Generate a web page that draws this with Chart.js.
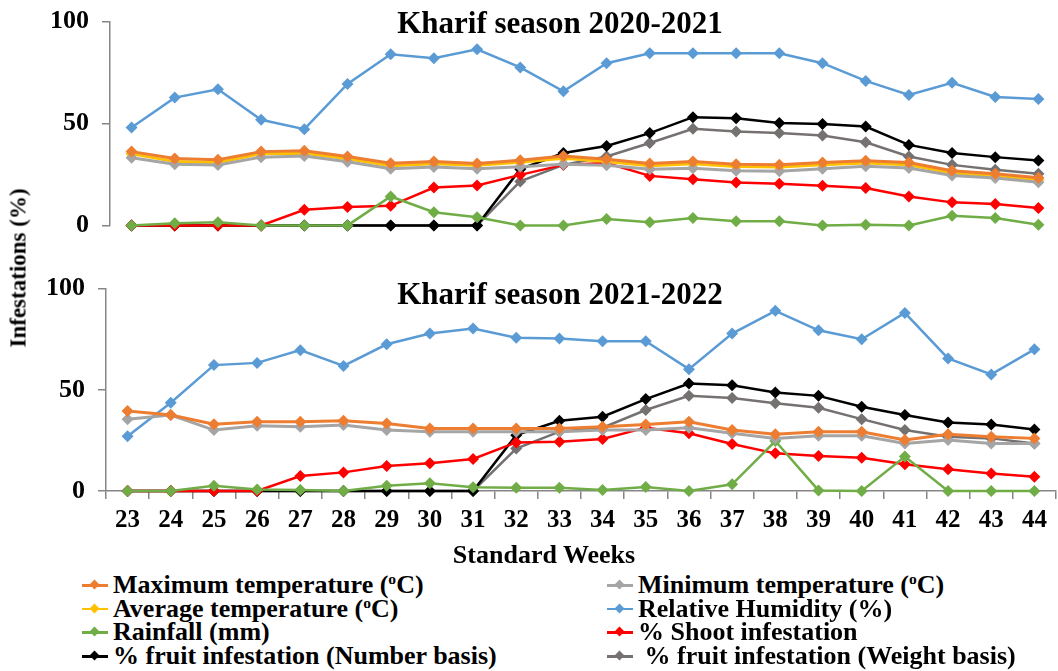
<!DOCTYPE html>
<html>
<head>
<meta charset="utf-8">
<script src="https://cdn.jsdelivr.net/npm/chart.js@4.4.0/dist/chart.umd.min.js"></script>
<style>
  html, body { margin: 0; padding: 0; background: #fff; overflow: hidden; }
  body { width: 1058px; height: 671px; position: relative; font-family: "Liberation Serif", "Times New Roman", serif; font-weight: bold; color: #000; }
  canvas { position: absolute; left: 0; }
  .txt { position: absolute; white-space: nowrap; line-height: 1; }
  .title { font-size: 31px; left: 0; width: 1120px; text-align: center; }
  .ytitle { font-size: 23px; left: 18px; top: 268px; transform: translate(-50%, -50%) rotate(-90deg); }
  .xtitle { font-size: 26px; left: 544px; top: 555px; transform: translate(-50%, -50%); }
  .leg { position: absolute; font-size: 26px; height: 24px; display: flex; align-items: center; white-space: nowrap; }
  .sym { position: relative; width: 26px; height: 24px; margin-right: 5px; }
  .sym .ln { position: absolute; left: 0; right: 0; top: 11px; height: 2.5px; }
  .sym .dm { position: absolute; left: 9px; top: 8px; width: 7px; height: 7px; transform: rotate(45deg); }
  sup { font-size: 60%; vertical-align: 0.55em; line-height: 0; }
</style>
</head>
<body>
<!-- chart.js keeps ~28.6px above/below the y labels, so canvases are shifted to put 100/0 where the reference has them -->
<canvas id="top" width="1066" height="261" style="top:-7px"></canvas>
<canvas id="bottom" width="1062" height="310" style="top:260px"></canvas>

<div class="txt title" style="top:7px">Kharif season 2020-2021</div>
<div class="txt title" style="top:278px">Kharif season 2021-2022</div>
<div class="txt ytitle">Infestations (%)</div>
<div class="txt xtitle">Standard Weeks</div>
<div id="legend"></div>

<script>
// standard weeks (x categories)
const weeks = ['23','24','25','26','27','28','29','30','31','32','33','34','35','36','37','38','39','40','41','42','43','44'];
const yTicks = [0, 50, 100];

// Kharif 2020-2021
const maxTemp20 = [36.2, 32.8, 32.2, 36.2, 36.6, 33.8, 30.5, 31.3, 30.4, 32.0, 34.0, 32.5, 30.4, 31.3, 30.0, 29.7, 30.9, 31.7, 30.9, 26.8, 25.4, 23.4];
const minTemp20 = [33.2, 30.0, 29.6, 33.5, 34.0, 31.2, 27.8, 28.6, 27.8, 28.8, 30.0, 29.5, 27.5, 28.0, 26.8, 26.6, 27.8, 29.0, 28.2, 24.5, 23.2, 21.2];
const avgTemp20 = [35.1, 31.4, 30.9, 35.1, 35.4, 32.7, 29.3, 30.2, 29.5, 31.0, 33.0, 31.3, 29.3, 30.2, 28.9, 28.6, 29.8, 30.6, 29.8, 25.7, 24.4, 22.4];
const humidity20 = [48, 62.7, 66.8, 51.8, 47.2, 69.4, 84, 82, 86.4, 77.5, 65.8, 79.6, 84.5, 84.5, 84.5, 84.5, 79.6, 70.9, 64, 70, 63, 62];
const rainfall20 = [0, 1, 1.5, 0, 0, 0, 14.2, 6.5, 4, 0, 0, 3.1, 1.6, 3.6, 2, 2, 0, 0.3, 0, 4.7, 3.6, 0.3];
const shoot20 = [0, 0, 0, 0, 7.7, 9, 9.6, 18.6, 19.6, 24.8, 29.7, 30.6, 24.3, 22.7, 21, 20.4, 19.4, 18.3, 14.2, 11.3, 10.5, 8.5];
const fruitNum20 = [0, 0, 0, 0, 0, 0, 0, 0, 0, 27.6, 35.5, 39, 45.3, 53.1, 52.6, 50.2, 49.7, 48.5, 39.5, 35.5, 33.5, 31.9];
const fruitWt20 = [0, 0, 0, 0, 0, 0, 0, 0, 0, 21.6, 29.7, 33.8, 40.4, 47.4, 46.1, 45.3, 44.1, 40.8, 33.8, 29.7, 27.3, 25.3];

// Kharif 2021-2022 (no average temperature line is drawn in this panel)
const maxTemp21 = [39.5, 37.5, 33, 34.2, 34.2, 34.7, 33.4, 30.9, 30.9, 30.9, 30.9, 31.7, 32.9, 34.2, 30.1, 28, 29.3, 29.3, 25.2, 28, 26.8, 26];
const minTemp21 = [35.4, 37.5, 30.1, 32.2, 31.7, 32.6, 30.1, 29.3, 29.3, 29.3, 29.3, 30.1, 30.1, 31.3, 28.5, 26, 27.3, 27.3, 23.5, 25.2, 23.5, 23.5];
const humidity21 = [27.1, 43.6, 62.2, 63.3, 69.6, 61.8, 72.5, 77.8, 80.3, 75.7, 75.3, 74, 74, 60.2, 77.8, 89, 79.4, 75, 88, 65.5, 57.6, 70];
const rainfall21 = [0, 0, 2.6, 0.8, 0.5, 0, 2.6, 3.8, 1.8, 1.6, 1.6, 0.5, 2, 0, 3.3, 24.7, 0.3, 0, 17, 0, 0, 0];
const shoot21 = [0, 0, 0, 0, 7.4, 9.2, 12.3, 13.7, 15.8, 24, 24.3, 25.7, 31.3, 28.5, 23.2, 18.6, 17.3, 16.4, 13.2, 10.7, 8.7, 7.1];
const fruitNum21 = [0, 0, 0, 0, 0, 0, 0, 0, 0, 27.6, 34.7, 36.7, 45.4, 53.1, 52.3, 48.7, 47, 41.6, 37.5, 33.9, 32.9, 30.4];
const fruitWt21 = [0, 0, 0, 0, 0, 0, 0, 0, 0, 21, 29.3, 31.3, 40, 47, 46, 43.3, 41.1, 35.5, 30.1, 26.8, 26, 23.5];

const seriesInfo = [
  { key: 'max',   label: 'Maximum temperature (<sup>o</sup>C)', color: '#ED7D31', width: 3 },
  { key: 'min',   label: 'Minimum temperature (<sup>o</sup>C)', color: '#A5A5A5', width: 3 },
  { key: 'avg',   label: 'Average temperature (<sup>o</sup>C)', color: '#FFC000', width: 3 },
  { key: 'rh',    label: 'Relative Humidity (%)', color: '#5B9BD5', width: 2.5 },
  { key: 'rain',  label: 'Rainfall (mm)', color: '#70AD47', width: 2.5 },
  { key: 'shoot', label: '% Shoot infestation', color: '#FF0000', width: 2.5 },
  { key: 'num',   label: '% fruit infestation (Number basis)', color: '#000000', width: 2.5 },
  { key: 'wt',    label: '&nbsp;% fruit infestation (Weight basis)', color: '#767171', width: 2.5 }
];

const AXIS_COLOR = '#868686';
const FONT = 'Liberation Serif';

function makeDatasets(values) {
  return seriesInfo.filter(s => values[s.key]).map(s => ({
    label: s.key,
    data: values[s.key],
    borderColor: s.color,
    backgroundColor: s.color,
    borderWidth: s.width,
    pointStyle: 'rectRot',
    pointRadius: 6,
    pointHoverRadius: 6,
    pointBorderWidth: 0,
    tension: 0,
    clip: false
  }));
}

function yScale(width) {
  return {
    min: 0, max: 100,
    afterFit: s => { s.width = width; },
    afterBuildTicks: s => { s.ticks = yTicks.map(v => ({ value: v })); },
    border: { color: AXIS_COLOR, width: 1.5 },
    grid: { drawOnChartArea: false, drawTicks: true, tickLength: 8, color: AXIS_COLOR, lineWidth: 1.5 },
    ticks: { color: '#000', padding: 13, font: { family: FONT, size: 26, weight: 'bold' } }
  };
}

function baseOptions() {
  return {
    responsive: false,
    devicePixelRatio: 1,
    animation: false,
    events: [],
    layout: { padding: 0 },
    plugins: { legend: { display: false }, tooltip: { enabled: false }, title: { display: false } }
  };
}

// top panel: 2020-2021
const topOpts = baseOptions();
topOpts.scales = {
  x: { type: 'category', offset: true, display: false },
  y: yScale(110)
};
new Chart(document.getElementById('top'), {
  type: 'line',
  data: {
    labels: weeks,
    datasets: makeDatasets({ max: maxTemp20, min: minTemp20, avg: avgTemp20, rh: humidity20, rain: rainfall20, shoot: shoot20, num: fruitNum20, wt: fruitWt20 })
  },
  options: topOpts
});

// bottom panel: 2021-2022
const botOpts = baseOptions();
botOpts.scales = {
  x: {
    type: 'category', offset: true,
    afterFit: s => { s.height = 79; },
    border: { color: AXIS_COLOR, width: 1.5 },
    grid: { offset: true, drawOnChartArea: false, drawTicks: true, tickLength: 8, color: AXIS_COLOR, lineWidth: 1.5 },
    ticks: { color: '#000', padding: 7, maxRotation: 0, autoSkip: false, font: { family: FONT, size: 25, weight: 'bold' } }
  },
  y: yScale(106)
};
new Chart(document.getElementById('bottom'), {
  type: 'line',
  data: {
    labels: weeks,
    datasets: makeDatasets({ max: maxTemp21, min: minTemp21, rh: humidity21, rain: rainfall21, shoot: shoot21, num: fruitNum21, wt: fruitWt21 })
  },
  options: botOpts
});

// legend, two columns
const legend = document.getElementById('legend');
seriesInfo.forEach((s, i) => {
  const col = i % 2, row = Math.floor(i / 2);
  const el = document.createElement('div');
  el.className = 'leg';
  el.style.left = (col ? 607 : 82) + 'px';
  el.style.top = (573 + row * 23.7) + 'px';
  el.innerHTML = '<span class="sym"><span class="ln" style="background:' + s.color + '"></span>' +
    '<span class="dm" style="background:' + s.color + '"></span></span><span>' + s.label + '</span>';
  legend.appendChild(el);
});
</script>
</body>
</html>
